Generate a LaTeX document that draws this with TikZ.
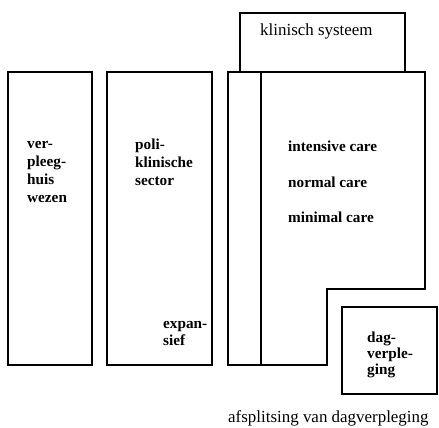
\documentclass[tikz,border=0pt]{standalone}
\usepackage{fontspec}
\setmainfont{Liberation Serif}
\begin{document}
\begin{tikzpicture}[x=1bp,y=-1bp,
  frame/.style={draw=black,line width=1.4bp,line join=miter},
  lbl/.style={anchor=base west,inner sep=0pt,font=\fontsize{15.3}{18}\selectfont\bfseries},
  rlbl/.style={anchor=base west,inner sep=0pt,font=\fontsize{17}{20}\selectfont}]
\fill[white] (0,0) rectangle (439,427);
\useasboundingbox (0,0) rectangle (439,427);
% boxes
\draw[frame] (8,72) rectangle (92,365);
\draw[frame] (107,72) rectangle (212,365);
\draw[frame] (240,13) rectangle (405,72);
\draw[frame] (228,72) -- (425,72) -- (425,289) -- (327,289) -- (327,365) -- (228,365) -- cycle;
\draw[frame] (261,72) -- (261,365);
\draw[frame] (342,307) rectangle (437,394);
% texts
\node[lbl] (v1) at (27,148) {ver-};
\node[lbl] (v2) at (27,166) {pleeg-};
\node[lbl] (v3) at (27,184) {huis};
\node[lbl] (v4) at (27,202) {wezen};
\node[lbl] (p1) at (135,149) {poli-};
\node[lbl] (p2) at (135,167) {klinische};
\node[lbl] (p3) at (135,185) {sector};
\node[lbl] (e1) at (163,328) {expan-};
\node[lbl] (e2) at (163,345) {sief};
\node[rlbl] (ks) at (260,35) {klinisch systeem};
\node[lbl] (ic) at (288,151) {intensive care};
\node[lbl] (nc) at (288,187) {normal care};
\node[lbl] (mc) at (288,222) {minimal care};
\node[lbl] (d1) at (367,342) {dag-};
\node[lbl] (d2) at (367,358) {verple-};
\node[lbl] (d3) at (367,374) {ging};
\node[rlbl] (cap) at (228,422) {afsplitsing van dagverpleging};
\end{tikzpicture}
\end{document}
